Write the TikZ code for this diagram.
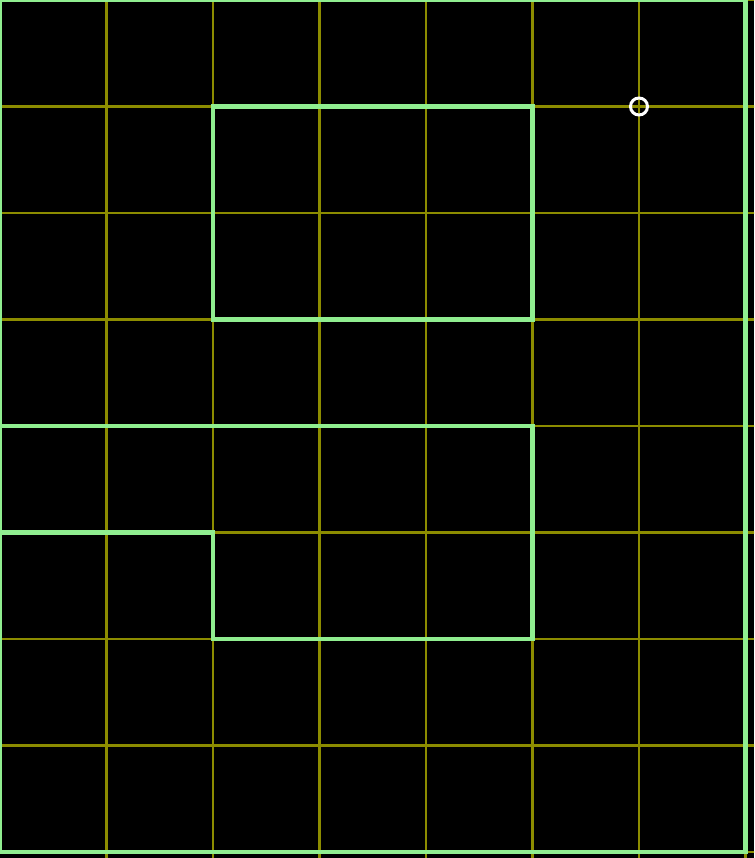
\documentclass[tikz,border=0pt]{standalone}
\usetikzlibrary{positioning}
\definecolor{bg}{HTML}{000000}
\definecolor{gridline}{HTML}{8C8C00}
\definecolor{wallc}{HTML}{90EE90}
\tikzset{
  gridln/.style={draw=gridline,line width=.6pt},
  wall/.style={draw=wallc,line width=1.2pt},
  marker/.style={circle,draw=white,line width=.8pt,fill=none,minimum size=1.6mm,inner sep=0pt},
}
\begin{document}
\begin{tikzpicture}[x=1cm,y=1cm]
  \fill[bg] (0,-0.0563) rectangle (7.0798,8);
  \clip (0,-0.0563) rectangle (7.0798,8);
  % grid
  \foreach \i in {1,...,7} { \draw[gridln] (\i,-1) -- (\i,9); }
  \foreach \j in {0,...,8} { \draw[gridln] (-1,\j) -- (8,\j); }
  % walls
  \draw[wall] (0,0) rectangle (7,8);
  \draw[wall] (2,5) rectangle (5,7);
  \draw[wall] (0,4) -- (5,4) -- (5,2) -- (2,2) -- (2,3) -- (0,3);
  \node[marker] (start) at (6,7) {};
\end{tikzpicture}
\end{document}
